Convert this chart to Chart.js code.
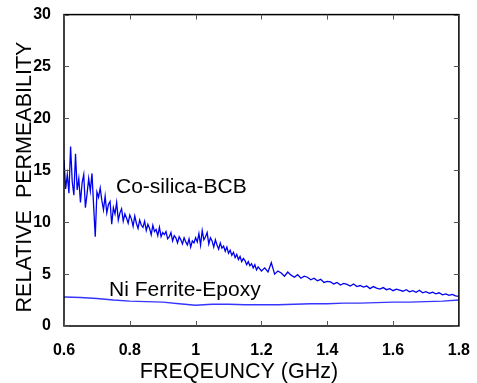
<!DOCTYPE html>
<html>
<head>
<meta charset="utf-8">
<script src="https://cdn.jsdelivr.net/npm/chart.js@4.4.0/dist/chart.umd.min.js"></script>
<style>
  body { margin: 0; background: #fff; }
  #wrap { width: 477px; height: 383px; }
</style>
</head>
<body>
<div id="wrap"><canvas id="permChart"></canvas></div>
<script>
// Co-silica-BCB, 0.600 .. 1.200 GHz every 5 MHz, then 1.21 .. 1.80 every 10 MHz
const coFreq = [
  0.600, 0.605, 0.610, 0.615, 0.620, 0.625, 0.630, 0.635, 0.640, 0.645, 0.650,
  0.655, 0.660, 0.665, 0.670, 0.675, 0.680, 0.685, 0.690, 0.695, 0.700,
  0.705, 0.710, 0.715, 0.720, 0.725, 0.730, 0.735, 0.740, 0.745, 0.750,
  0.755, 0.760, 0.765, 0.770, 0.775, 0.780, 0.785, 0.790, 0.795, 0.800,
  0.805, 0.810, 0.815, 0.820, 0.825, 0.830, 0.835, 0.840, 0.845, 0.850,
  0.855, 0.860, 0.865, 0.870, 0.875, 0.880, 0.885, 0.890, 0.895, 0.900,
  0.905, 0.910, 0.915, 0.920, 0.925, 0.930, 0.935, 0.940, 0.945, 0.950,
  0.955, 0.960, 0.965, 0.970, 0.975, 0.980, 0.985, 0.990, 0.995, 1.000,
  1.005, 1.010, 1.015, 1.020, 1.025, 1.030, 1.035, 1.040, 1.045, 1.050,
  1.055, 1.060, 1.065, 1.070, 1.075, 1.080, 1.085, 1.090, 1.095, 1.100,
  1.105, 1.110, 1.115, 1.120, 1.125, 1.130, 1.135, 1.140, 1.145, 1.150,
  1.155, 1.160, 1.165, 1.170, 1.175, 1.180, 1.185, 1.190, 1.195, 1.200,
  1.21, 1.22, 1.23, 1.24, 1.25, 1.26, 1.27, 1.28, 1.29, 1.30,
  1.31, 1.32, 1.33, 1.34, 1.35, 1.36, 1.37, 1.38, 1.39, 1.40,
  1.41, 1.42, 1.43, 1.44, 1.45, 1.46, 1.47, 1.48, 1.49, 1.50,
  1.51, 1.52, 1.53, 1.54, 1.55, 1.56, 1.57, 1.58, 1.59, 1.60,
  1.61, 1.62, 1.63, 1.64, 1.65, 1.66, 1.67, 1.68, 1.69, 1.70,
  1.71, 1.72, 1.73, 1.74, 1.75, 1.76, 1.77, 1.78, 1.79, 1.80
];
const coPerm = [
  16.0, 13.2, 14.6, 12.8, 17.3, 13.9, 12.6, 16.6, 13.1, 14.2, 11.9,
  13.8, 14.6, 11.4, 12.7, 14.2, 13.0, 14.7, 11.6, 8.6, 12.9,
  12.4, 13.3, 12.1, 11.2, 12.5, 10.9, 11.7, 12.0, 9.8, 11.4,
  10.8, 11.9, 10.2, 10.9, 11.3, 10.1, 10.8, 10.4, 9.9, 10.7,
  10.3, 9.6, 10.6, 9.9, 9.4, 10.2, 9.7, 9.5, 10.1, 9.2,
  9.8, 9.4, 8.8, 9.7, 9.1, 9.3, 8.7, 9.5, 8.6, 9.0,
  8.8, 9.1, 8.4, 8.6, 9.0, 8.2, 8.7, 8.5, 8.0, 8.6,
  8.3, 7.9, 8.5, 8.1, 7.8, 8.4, 7.6, 8.2, 8.0, 8.5,
  8.1, 8.9, 7.8, 9.2, 8.3, 8.6, 9.0, 7.9, 8.5, 8.2,
  7.6, 8.3, 7.8, 7.4, 8.0, 7.5, 7.7, 7.2, 7.6, 7.0,
  7.3, 6.8, 7.1, 6.6, 6.9, 6.4, 6.7, 6.2, 6.5, 6.3,
  5.9, 6.2, 5.8, 6.0, 5.6, 5.9, 5.4, 5.7, 5.5, 5.3,
  5.6, 5.2, 6.1, 5.0, 5.3, 5.1, 4.8, 5.2, 4.9, 4.7,
  4.95, 4.6, 4.8, 4.7, 4.45, 4.6, 4.35, 4.5, 4.2, 4.3,
  4.25, 4.05, 4.2, 3.95, 4.1, 4.0, 3.85, 4.05, 3.8, 3.9,
  3.75, 3.85, 3.6, 3.8, 3.65, 3.55, 3.7, 3.5, 3.6, 3.4,
  3.55, 3.45, 3.35, 3.5, 3.3, 3.4, 3.25, 3.45, 3.2, 3.3,
  3.15, 3.25, 3.1, 3.2, 3.0, 3.1, 2.95, 3.05, 2.9, 2.85
];

// Ni Ferrite-Epoxy
const niFreq = [0.60, 0.65, 0.70, 0.75, 0.80, 0.85, 0.90, 0.95, 1.00, 1.05, 1.10, 1.15, 1.20,
                1.25, 1.30, 1.35, 1.40, 1.45, 1.50, 1.55, 1.60, 1.65, 1.70, 1.75, 1.80];
const niPerm = [2.8, 2.75, 2.65, 2.5, 2.4, 2.35, 2.3, 2.15, 2.0, 2.1, 2.1, 2.05, 2.05,
                2.05, 2.1, 2.15, 2.15, 2.2, 2.2, 2.25, 2.3, 2.3, 2.35, 2.4, 2.5];

const xTitle = 'FREQEUNCY (GHz)';
const yTitle = 'RELATIVE  PERMEABILITY';
const seriesNames = ['Co-silica-BCB', 'Ni Ferrite-Epoxy'];

function toPoints(xs, ys) {
  return xs.map((x, i) => ({ x: x, y: ys[i] }));
}

// box, inward ticks, curve labels and axis titles
const decorations = {
  id: 'decorations',
  afterDraw(chart) {
    const { ctx, chartArea: a, scales } = chart;
    ctx.save();
    ctx.strokeStyle = '#000';
    ctx.lineWidth = 1.5;
    ctx.strokeRect(a.left, a.top, a.right - a.left, a.bottom - a.top);

    ctx.lineWidth = 1;
    ctx.strokeStyle = '#555';
    ctx.beginPath();
    scales.x.ticks.forEach(t => {
      const px = Math.round(scales.x.getPixelForValue(t.value)) + 0.5;
      ctx.moveTo(px, a.bottom); ctx.lineTo(px, a.bottom - 5);
      ctx.moveTo(px, a.top); ctx.lineTo(px, a.top + 5);
    });
    scales.y.ticks.forEach(t => {
      const py = Math.round(scales.y.getPixelForValue(t.value)) + 0.5;
      ctx.moveTo(a.left, py); ctx.lineTo(a.left + 5, py);
      ctx.moveTo(a.right, py); ctx.lineTo(a.right - 5, py);
    });
    ctx.stroke();

    ctx.fillStyle = '#000';
    ctx.font = '21px "Liberation Sans", Arial, sans-serif';
    ctx.textBaseline = 'alphabetic';
    ctx.textAlign = 'left';
    ctx.fillText(seriesNames[0], 116, 193);
    ctx.fillText(seriesNames[1], 109, 296);

    ctx.textAlign = 'center';
    ctx.textBaseline = 'middle';
    ctx.font = '21.5px "Liberation Sans", Arial, sans-serif';
    ctx.fillText(xTitle, 239, 372);
    ctx.translate(25, 177);
    ctx.rotate(-Math.PI / 2);
    ctx.fillText(yTitle, 0, 0);
    ctx.restore();
  }
};

const tickFont = { family: '"Liberation Sans", Arial, sans-serif', size: 16, weight: 'bold' };

new Chart(document.getElementById('permChart').getContext('2d'), {
  type: 'line',
  data: {
    datasets: [
      {
        label: seriesNames[0],
        data: toPoints(coFreq, coPerm),
        borderColor: '#0000f0',
        borderWidth: 1.3,
        pointRadius: 0,
        tension: 0
      },
      {
        label: seriesNames[1],
        data: toPoints(niFreq, niPerm),
        borderColor: '#3535ff',
        borderWidth: 1.4,
        pointRadius: 0,
        tension: 0
      }
    ]
  },
  options: {
    responsive: true,
    maintainAspectRatio: false,
    animation: false,
    layout: { padding: { top: 14, right: 16, left: 0, bottom: 0 } },
    plugins: {
      legend: { display: false },
      tooltip: { enabled: false }
    },
    scales: {
      x: {
        type: 'linear',
        min: 0.6,
        max: 1.8,
        grid: { display: false },
        border: { display: false },
        ticks: {
          stepSize: 0.2,
          color: '#000',
          font: tickFont,
          padding: 7,
          maxRotation: 0,
          callback: value => String(parseFloat(value.toFixed(1)))
        },
        afterFit(scale) { scale.height = 57; }
      },
      y: {
        min: 0,
        max: 30,
        grid: { display: false },
        border: { display: false },
        ticks: { stepSize: 5, color: '#000', font: tickFont, padding: 5 },
        afterFit(scale) { scale.width = 64; }
      }
    }
  },
  plugins: [decorations]
});
</script>
</body>
</html>
